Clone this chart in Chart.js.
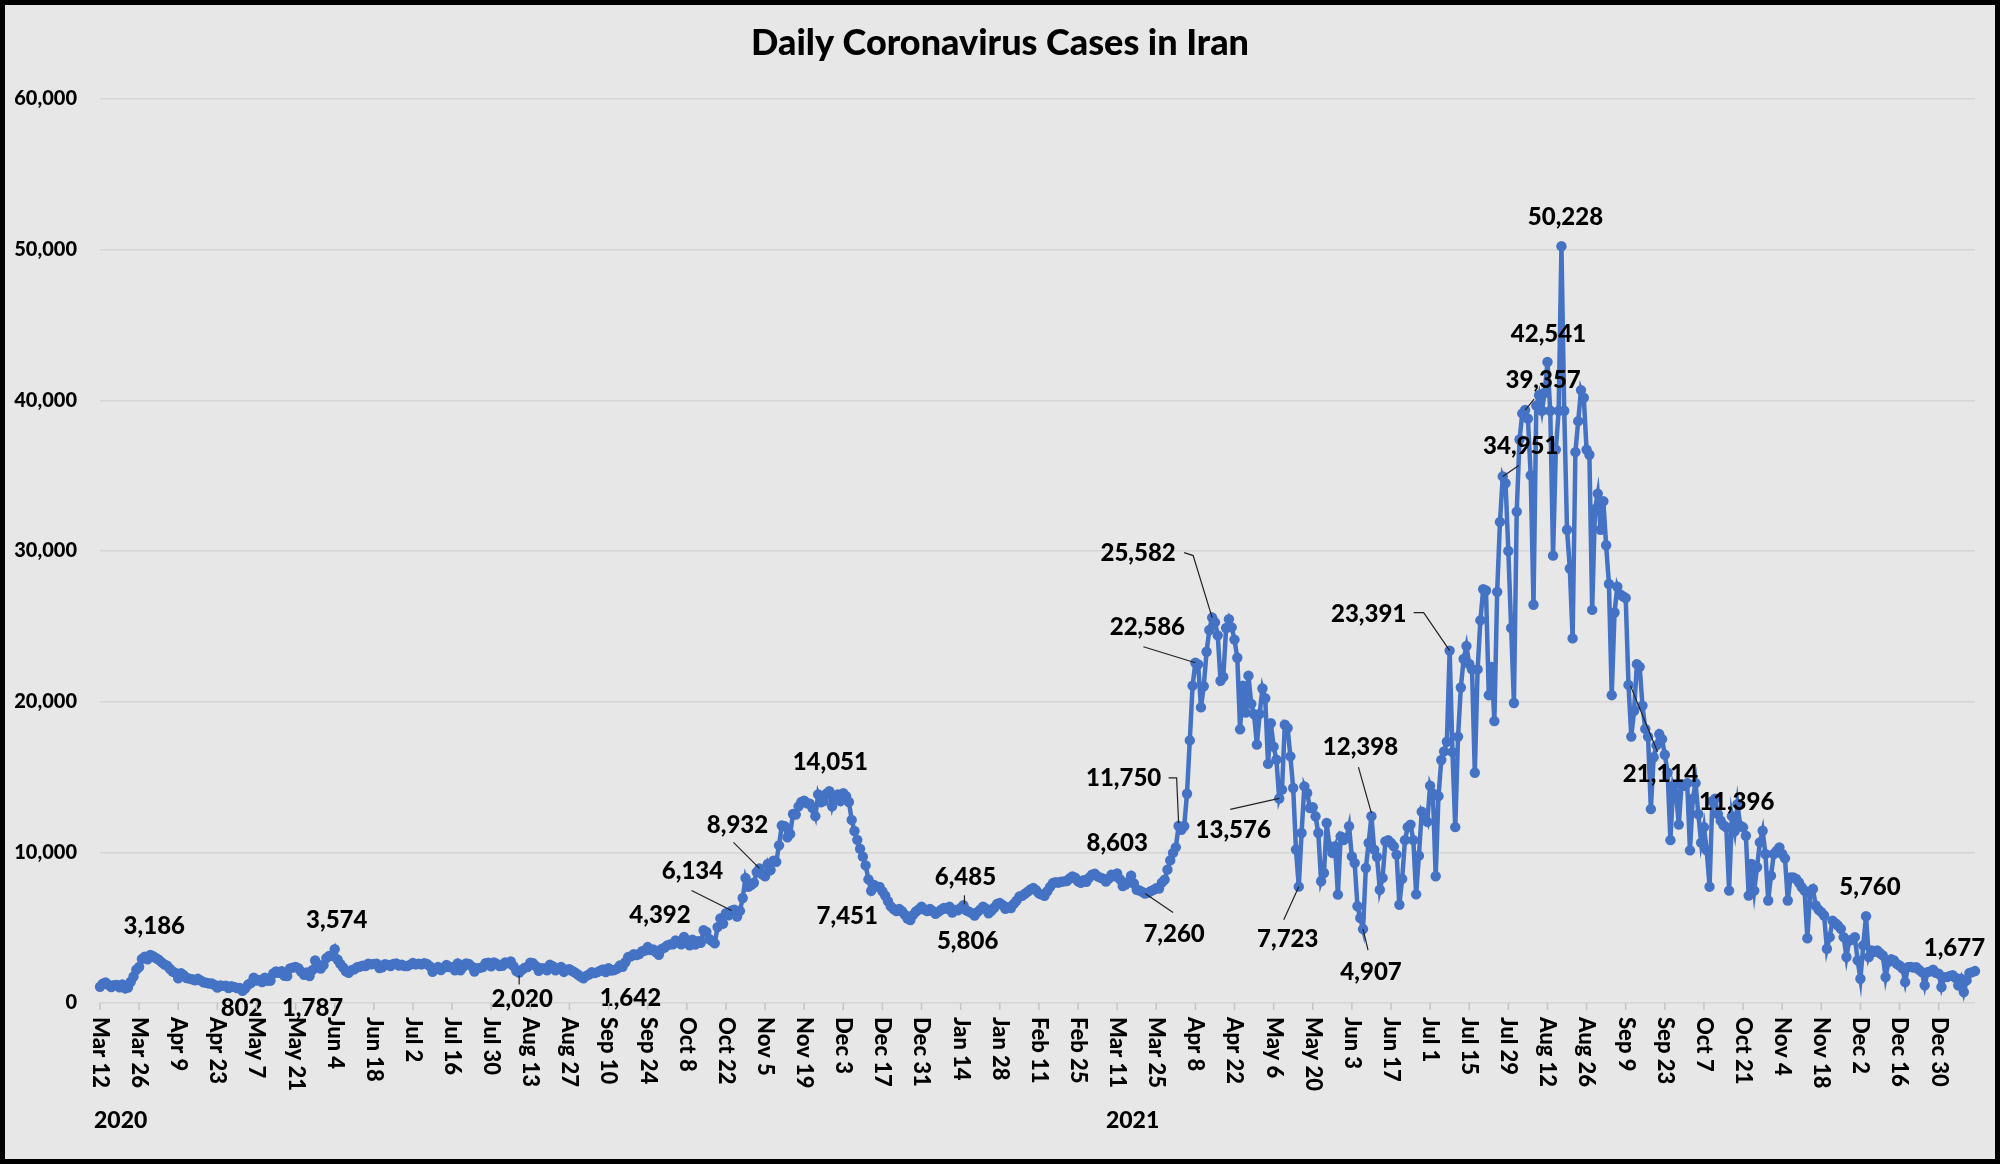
<!DOCTYPE html>
<html>
<head>
<meta charset="utf-8">
<script src="https://cdn.jsdelivr.net/npm/chart.js@4.4.1/dist/chart.umd.min.js"></script>
<style>
  html, body { margin: 0; padding: 0; background: #e7e7e7; }
  canvas { display: block; }
</style>
</head>
<body>
<canvas id="myChart" width="2000" height="1164"></canvas>
<script>
const canvas = document.getElementById('myChart');

// daily new cases, one array per month, first value = Mar 12 2020
const mar2020 = [1075, 1289, 1365, 1209, 1053, 1178, 1192, 1046, 1237, 966, 1028, 1411, 1762, 2206, 2389, 2926, 3076, 2901, 3186, 3110];
const apr2020 = [2987, 2875, 2715, 2560, 2483, 2274, 2089, 1997, 1634, 1972, 1837, 1657, 1617, 1574, 1512, 1606, 1499, 1374, 1343, 1294, 1297, 1194, 1030, 1168, 1134, 1153, 991, 1112, 1073, 993];
const may2020 = [1006, 802, 976, 1223, 1323, 1680, 1485, 1529, 1383, 1683, 1481, 1481, 1958, 2102, 2011, 2113, 1806, 1784, 2294, 2346, 2392, 2311, 2080, 1869, 2023, 1787, 2180, 2819, 2560, 2282, 2516];
const jun2020 = [2979, 3117, 3134, 3574, 2886, 2596, 2364, 2095, 2011, 2180, 2238, 2369, 2410, 2472, 2449, 2612, 2563, 2596, 2615, 2322, 2368, 2573, 2531, 2445, 2595, 2628, 2489, 2536, 2457, 2449];
const jul2020 = [2549, 2652, 2560, 2613, 2560, 2637, 2586, 2450, 2069, 2262, 2397, 2186, 2349, 2521, 2388, 2379, 2166, 2625, 2166, 2414, 2621, 2586, 2434, 2089, 2316, 2333, 2389, 2636, 2667, 2434, 2685];
const aug2020 = [2598, 2450, 2473, 2697, 2634, 2751, 2450, 2125, 2020, 2205, 2345, 2385, 2680, 2634, 2444, 2133, 2316, 2300, 2164, 2535, 2444, 2166, 2292, 2387, 2061, 2210, 2250, 2125, 2020, 1890, 1760];
const sep2020 = [1642, 1802, 1893, 2050, 1982, 2047, 2145, 2233, 2050, 2313, 2154, 2183, 2269, 2484, 2402, 2705, 3049, 3097, 3241, 3186, 3249, 3437, 3482, 3712, 3521, 3553, 3362, 3204, 3582, 3677];
const oct2020 = [3825, 3892, 3902, 4151, 4019, 3902, 4392, 4142, 3822, 4206, 3875, 4108, 3991, 4830, 4721, 4251, 4103, 3961, 5039, 5616, 5271, 5960, 5814, 6134, 6191, 5742, 6112, 6968, 8293, 7719, 7820];
const nov2020 = [7980, 8689, 8932, 8537, 8416, 9236, 8823, 9450, 9367, 10463, 11780, 11737, 10997, 11223, 12543, 12503, 13053, 13352, 13421, 13260, 13223, 12931, 12401, 13843, 13321, 13402, 13889, 14051, 13053, 13722];
const dec2020 = [13843, 13402, 13922, 13721, 13341, 12151, 11413, 10827, 10233, 9713, 9131, 8201, 7451, 7830, 7725, 7704, 7411, 7128, 6751, 6409, 6236, 6105, 6241, 6092, 5862, 5610, 5502, 5850, 6073, 6204, 6389];
const jan2021 = [6207, 6097, 6236, 6102, 5918, 6046, 6191, 6311, 6251, 6385, 6002, 6170, 6145, 6312, 6485, 6148, 6061, 5963, 5806, 6032, 6198, 6386, 6283, 5960, 6115, 6321, 6566, 6643, 6506, 6258, 6355];
const feb2021 = [6300, 6578, 6796, 7065, 7110, 7249, 7390, 7541, 7633, 7480, 7275, 7191, 7112, 7416, 7705, 7960, 8011, 7986, 8051, 8070, 8100, 8260, 8405, 8311, 8070, 7982, 8148, 8045];
const mar2021 = [8320, 8516, 8588, 8400, 8317, 8248, 8065, 8264, 8510, 8416, 8603, 8214, 7760, 7856, 8048, 8450, 7930, 7512, 7466, 7378, 7260, 7310, 7424, 7504, 7620, 7603, 7987, 8187, 8849, 9462, 9960];
const apr2021 = [10330, 11750, 11500, 11730, 13890, 17430, 21063, 22586, 22478, 19619, 21026, 23311, 24760, 25582, 25261, 24400, 21390, 21644, 24886, 25474, 24933, 24121, 22912, 18161, 21062, 19270, 21725, 19849, 19165, 17147];
const may2021 = [19186, 20873, 20230, 15872, 18566, 17015, 16152, 13576, 14160, 18470, 18250, 16370, 14270, 10180, 7723, 11280, 14380, 13940, 12940, 12990, 12390, 11280, 8080, 8630, 11950, 10400, 9960, 10400, 7190, 11060, 10810];
const jun2021 = [10950, 11730, 9730, 9290, 6420, 5640, 4907, 8960, 10620, 12398, 10180, 9700, 7520, 8300, 10730, 10800, 10620, 10400, 9850, 6520, 8240, 10810, 11670, 11840, 10810, 7210, 9780, 12700, 12390, 12020];
const jul2021 = [14420, 13900, 8410, 13730, 16130, 16700, 17340, 23391, 16650, 11670, 17680, 20940, 22830, 23690, 22500, 22140, 15280, 22140, 25400, 27460, 27380, 20430, 22310, 18710, 27290, 31930, 34951, 34500, 30000, 24890, 19910];
const aug2021 = [32610, 37400, 39130, 39357, 38790, 35020, 26430, 39650, 40340, 39310, 40500, 42541, 39310, 29690, 36730, 39300, 50228, 39310, 31410, 28840, 24200, 36560, 38620, 40680, 40170, 36730, 36390, 26090, 32780, 33810, 31410];
const sep2021 = [33300, 30380, 27810, 20430, 25920, 27630, 27120, 27000, 26880, 21114, 17680, 19400, 22490, 22310, 19740, 18190, 17680, 12870, 16310, 17100, 17850, 17510, 16480, 15280, 10810, 14420, 13900, 11840, 14500, 14420];
const oct2021 = [14590, 10130, 13560, 14590, 12530, 10640, 11670, 10130, 7720, 13390, 13560, 12540, 12100, 11800, 11660, 7460, 12400, 11396, 13200, 11770, 11660, 11100, 7130, 9230, 7460, 9010, 10660, 11430, 9890, 6800, 8450];
const nov2021 = [9890, 10100, 10330, 9890, 9600, 6800, 8340, 8340, 8230, 8000, 7680, 7460, 4300, 7240, 7570, 6470, 6200, 6030, 5810, 3600, 4370, 5470, 5300, 5140, 4920, 4370, 3050, 4150, 4200, 4370];
const dec2021 = [2830, 1610, 3820, 5760, 3050, 3490, 3400, 3490, 3300, 3160, 1720, 2720, 2900, 2830, 2600, 2490, 2300, 1390, 2380, 2400, 2350, 2380, 2200, 2050, 1170, 2050, 2100, 2210, 2000, 1940, 1060];
const jan2022 = [1720, 1720, 1800, 1850, 1677, 1170, 1610, 730, 1500, 1990, 2050, 2120];

const dailyCases = [].concat(mar2020, apr2020, may2020, jun2020, jul2020, aug2020, sep2020, oct2020, nov2020, dec2020,
  jan2021, feb2021, mar2021, apr2021, may2021, jun2021, jul2021, aug2021, sep2021, oct2021, nov2021, dec2021, jan2022);

const monthNames = ['Jan', 'Feb', 'Mar', 'Apr', 'May', 'Jun', 'Jul', 'Aug', 'Sep', 'Oct', 'Nov', 'Dec'];
const yTicks = [0, 10000, 20000, 30000, 40000, 50000, 60000];
const tickEvery = 14;
const yearLabels = ['2020', '2021'];
const yearIdx = [0, 365];
const yearShift = [-6, -14];

// points that carry a value label
const calloutIdx = [18, 51, 75, 84, 150, 173, 209, 226, 236, 261, 276, 309, 313, 364, 374, 386, 392, 398, 422, 429, 452, 455, 483, 502, 510, 518, 523, 547, 585, 632, 664];

// label centre offset from marker, and leader line points (offsets) if any
const calloutPos = {
  18: [4, -29], 51: [-1, 17], 75: [3, 32], 84: [2, -29],
  150: [3, 27, [[0, 3], [0, 12]]],
  173: [47, 20], 209: [-24, -22],
  226: [-39, -39, [[-40, -20], [0, 0]]],
  236: [-22, -43, [[-26, -26], [0, 0]]],
  261: [1, -29], 276: [-24, 26],
  309: [2, -28, [[1, -10], [1, -1]]],
  313: [-7, 26], 364: [0, -30],
  374: [29, 41, [[28, 19], [0, 0]]],
  386: [-55, -48, [[-10, -48], [-2, -48], [0, -3]]],
  392: [-48, -35, [[-52, -16], [0, 0]]],
  398: [-74, -64, [[-28, -65], [-19, -62], [0, 0]]],
  422: [-46, 32, [[-49, 11], [0, 0]]],
  429: [-11, 53, [[-15, 33], [0, 0]]],
  452: [8, 43, [[5, 21], [0, 0]]],
  455: [-11, -69, [[-13, -49], [0, -3]]],
  483: [-81, -36, [[-36, -38], [-26, -38], [0, 0]]],
  502: [18, -30, [[16, -11], [0, 0]]],
  510: [18, -30, [[9, -11], [0, 0]]],
  518: [1, -28], 523: [4, -29],
  547: [32, 89, [[29, 67], [2, 1]]],
  585: [2, -29], 632: [4, -29], 664: [-1, -29]
};

const dateLabels = [];
for (let i = 0; i < dailyCases.length; i++) {
  const d = new Date(2020, 2, 12 + i);
  dateLabels.push(monthNames[d.getMonth()] + ' ' + d.getDate());
}

const fmt = v => v.toLocaleString('en-US');

const excelLook = {
  id: 'excelLook',
  beforeDraw(chart) {
    const ctx = chart.ctx;
    ctx.save();
    ctx.fillStyle = '#e7e7e7';
    ctx.fillRect(0, 0, chart.width, chart.height);
    ctx.restore();
  },
  afterDatasetsDraw(chart) {
    const ctx = chart.ctx;
    const meta = chart.getDatasetMeta(0);
    ctx.save();
    // leaders
    ctx.strokeStyle = '#222';
    ctx.lineWidth = 1.2;
    for (const idx of calloutIdx) {
      const p = meta.data[idx];
      const pos = calloutPos[idx];
      if (pos[2]) {
        ctx.beginPath();
        pos[2].forEach((o, k) => {
          if (k == 0) ctx.moveTo(p.x + o[0], p.y + o[1]);
          else ctx.lineTo(p.x + o[0], p.y + o[1]);
        });
        ctx.stroke();
      }
    }
    // value labels
    ctx.fillStyle = '#000';
    ctx.font = '900 24px Lato';
    ctx.textAlign = 'center';
    ctx.textBaseline = 'middle';
    for (const idx of calloutIdx) {
      const p = meta.data[idx];
      const pos = calloutPos[idx];
      ctx.fillText(fmt(dailyCases[idx]), p.x + pos[0], p.y + pos[1]);
    }
    ctx.restore();
  },
  afterDraw(chart) {
    const ctx = chart.ctx;
    const xs = chart.scales.x;
    const base = chart.chartArea.bottom;
    ctx.save();
    // tick marks + rotated date labels
    ctx.strokeStyle = '#c4c4c4';
    ctx.lineWidth = 1.5;
    ctx.fillStyle = '#000';
    ctx.font = '900 22px Lato';
    ctx.textAlign = 'left';
    ctx.textBaseline = 'middle';
    for (let i = 0; i < dateLabels.length; i += tickEvery) {
      const x = xs.getPixelForValue(i);
      ctx.beginPath();
      ctx.moveTo(x, base);
      ctx.lineTo(x, base + 7);
      ctx.stroke();
      ctx.save();
      ctx.translate(x, base + 14);
      ctx.rotate(Math.PI / 2);
      ctx.fillText(dateLabels[i], 0, 0);
      ctx.restore();
    }
    // year row
    ctx.font = '900 23px Lato';
    ctx.textAlign = 'left';
    yearLabels.forEach((t, k) => {
      ctx.fillText(t, xs.getPixelForValue(yearIdx[k]) + yearShift[k], 1121);
    });
    // title
    ctx.font = '900 36px Lato';
    ctx.textAlign = 'center';
    ctx.fillText('Daily Coronavirus Cases in Iran', 1000, 43);
    // frame
    ctx.strokeStyle = '#000';
    ctx.lineWidth = 5;
    ctx.strokeRect(2.5, 2.5, chart.width - 5, chart.height - 5);
    ctx.restore();
  }
};

let myChart = new Chart(canvas, {
  type: 'line',
  data: {
    labels: dateLabels,
    datasets: [{
      label: 'Daily cases',
      data: dailyCases,
      borderColor: '#4472C4',
      backgroundColor: '#4472C4',
      borderWidth: 4.5,
      pointRadius: 5.2,
      pointBorderWidth: 0,
      pointBackgroundColor: '#4472C4',
      tension: 0,
      clip: false
    }]
  },
  options: {
    responsive: false,
    animation: false,
    layout: { padding: { top: 99, right: 25, bottom: 151, left: 0 } },
    plugins: {
      legend: { display: false },
      tooltip: { enabled: false },
      title: { display: false }
    },
    scales: {
      x: {
        type: 'category',
        offset: false,
        grid: { display: false },
        border: { display: false },
        ticks: { display: false },
        afterFit(s) { s.height = 10; }
      },
      y: {
        min: 0,
        max: 60000,
        afterBuildTicks(s) { s.ticks = yTicks.map(v => ({ value: v })); },
        ticks: {
          padding: 23,
          color: '#000',
          font: { family: 'Lato', weight: '900', size: 20 },
          callback: v => fmt(v)
        },
        grid: { color: '#d5d5d5', lineWidth: 1.5, drawTicks: false },
        border: { display: false },
        afterFit(s) { s.width = 100; }
      }
    }
  },
  plugins: [excelLook]
});
</script>
</body>
</html>
